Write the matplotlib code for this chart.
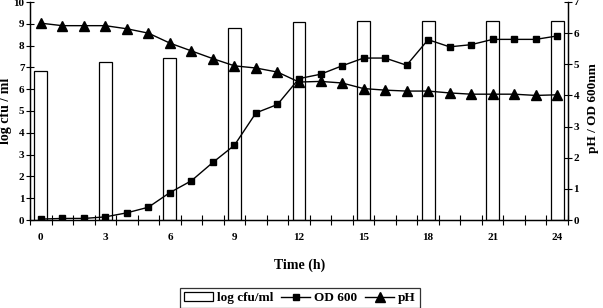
import matplotlib
matplotlib.use('Agg')
import matplotlib.pyplot as plt
import numpy as np

plt.rcParams['font.family'] = 'Liberation Serif'
plt.rcParams['font.weight'] = 'bold'

# time points (h)
hours = np.arange(0, 25)
# log cfu/ml, measured every 3 h
cfu_hours = [0, 3, 6, 9, 12, 15, 18, 21, 24]
log_cfu = [6.85, 7.25, 7.45, 8.8, 9.1, 9.15, 9.15, 9.15, 9.15]
# OD 600 (right axis)
od600 = [0.03, 0.05, 0.05, 0.1, 0.23, 0.41, 0.88, 1.26, 1.85, 2.40, 3.44, 3.71, 4.54,
         4.68, 4.95, 5.20, 5.20, 4.97, 5.79, 5.56, 5.63, 5.80, 5.80, 5.80, 5.91]
# pH (right axis)
ph = [6.32, 6.24, 6.24, 6.24, 6.14, 6.0, 5.68, 5.43, 5.18, 4.95, 4.88, 4.75, 4.43,
      4.45, 4.40, 4.22, 4.17, 4.14, 4.14, 4.08, 4.04, 4.04, 4.04, 4.0, 4.02]
xtick_labels = ['0', '3', '6', '9', '12', '15', '18', '21', '24']

fig = plt.figure(figsize=(6.03, 3.08), dpi=100)
ax = fig.add_axes([30/603, 88/308, 538/603, 218/308])
ax2 = ax.twinx()

bars = ax.bar(cfu_hours, log_cfu, width=0.6, color='white', edgecolor='black', linewidth=0.9, zorder=1)
l1, = ax2.plot(hours, od600, '-s', color='black', lw=1, ms=4, zorder=3)
l2, = ax2.plot(hours, ph, '-^', color='black', lw=1, ms=7, zorder=3)

ax.set_xlim(-0.5, 24.5)
ax.set_ylim(0, 10)
ax2.set_ylim(0, 7)
ax.set_yticks(range(0, 11))
ax2.set_yticks(range(0, 8))

ax.set_xticks(cfu_hours)
ax.set_xticklabels(xtick_labels)
ax.set_xticks(np.arange(-0.5, 25, 1), minor=True)
ax.tick_params(axis='x', which='major', length=0, pad=9, labelsize=8)
ax.tick_params(axis='x', which='minor', length=7, direction='inout', width=0.8)
ax.tick_params(axis='y', length=6, direction='inout', width=0.8, labelsize=8, pad=1)
ax2.tick_params(axis='y', length=6, direction='inout', width=0.8, labelsize=8, pad=1)

for a in (ax, ax2):
    a.spines['top'].set_visible(False)
    for s in ('left', 'right', 'bottom'):
        a.spines[s].set_linewidth(0.9)

fig.text(6/603, 1 - 111/308, 'log cfu / ml', rotation=90, ha='center', va='center', fontsize=10)
fig.text(593/603, 1 - 108/308, 'pH / OD 600nm', rotation=90, ha='center', va='center', fontsize=9.5)
fig.text(300/603, 1 - 265/308, 'Time (h)', ha='center', va='center', fontsize=10)

leg = fig.legend([bars, l1, l2], ['log cfu/ml', 'OD 600', 'pH'], ncol=3, loc='upper center',
                 bbox_to_anchor=(300/603, 1 - 288/308), frameon=True, fancybox=False,
                 edgecolor='black', fontsize=9.5, handlelength=2.2, columnspacing=0.6,
                 handletextpad=0.3, borderpad=0.3, borderaxespad=0)
leg.get_frame().set_linewidth(0.9)

fig.savefig('out.png', dpi=100)
